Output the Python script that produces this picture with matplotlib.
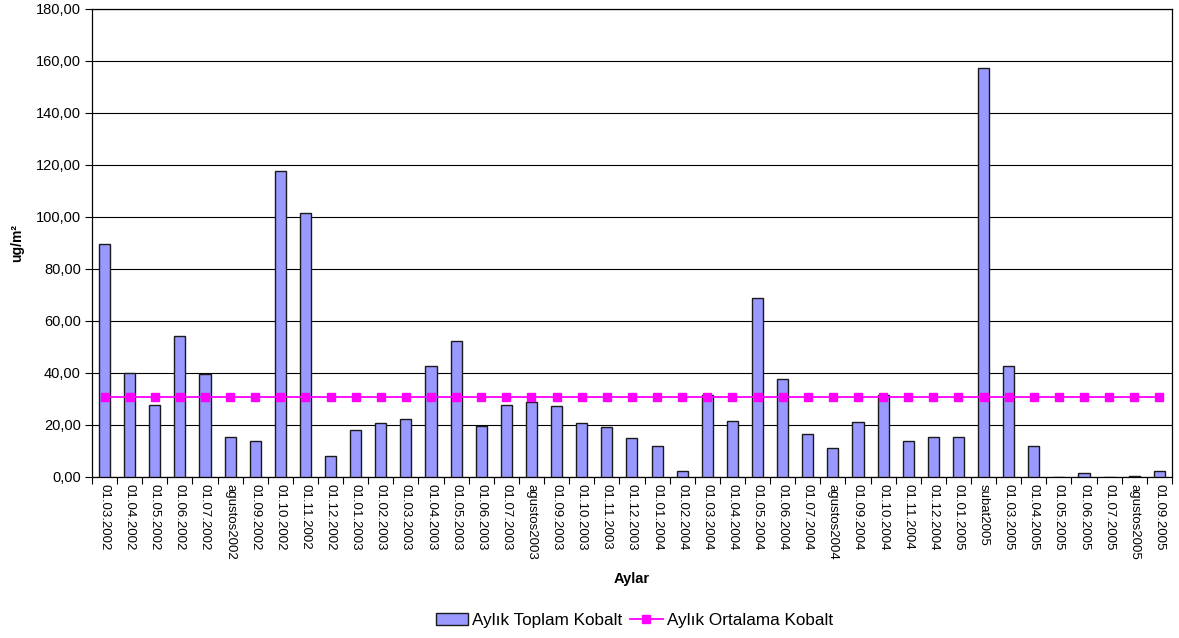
import matplotlib
matplotlib.use("Agg")
import matplotlib.pyplot as plt
import numpy as np

# ----------------------------------------------------------------------------
#  DATA
# ----------------------------------------------------------------------------
aylar = ['01.03.2002', '01.04.2002', '01.05.2002', '01.06.2002', '01.07.2002',
         'agustos2002', '01.09.2002', '01.10.2002', '01.11.2002', '01.12.2002',
         '01.01.2003', '01.02.2003', '01.03.2003', '01.04.2003', '01.05.2003',
         '01.06.2003', '01.07.2003', 'agustos2003', '01.09.2003', '01.10.2003',
         '01.11.2003', '01.12.2003', '01.01.2004', '01.02.2004', '01.03.2004',
         '01.04.2004', '01.05.2004', '01.06.2004', '01.07.2004', 'agustos2004',
         '01.09.2004', '01.10.2004', '01.11.2004', '01.12.2004', '01.01.2005',
         'subat2005', '01.03.2005', '01.04.2005', '01.05.2005', '01.06.2005',
         '01.07.2005', 'agustos2005', '01.09.2005']

toplam_kobalt = [89.5, 40.0, 27.7, 54.2, 39.6, 15.4, 13.8, 117.7, 101.5, 8.1,
                 18.1, 20.8, 22.3, 42.7, 52.3, 19.6, 27.7, 28.8, 27.3, 20.8,
                 19.2, 15.0, 11.9, 2.3, 31.5, 21.5, 69.0, 37.7, 16.5, 11.2,
                 21.0, 31.5, 13.8, 15.4, 15.4, 157.3, 42.7, 11.9, 0.0, 1.4,
                 0.0, 0.5, 2.3]

ortalama_kobalt = [30.9] * len(aylar)

y_ticks = [0, 20, 40, 60, 80, 100, 120, 140, 160, 180]
y_tick_labels = ['0,00', '20,00', '40,00', '60,00', '80,00', '100,00',
                 '120,00', '140,00', '160,00', '180,00']

# ----------------------------------------------------------------------------
#  PLOT
# ----------------------------------------------------------------------------
plt.rcParams['font.family'] = ['Liberation Sans', 'DejaVu Sans']

fig = plt.figure(figsize=(11.79, 6.38), dpi=100)
ax = fig.add_axes([0.078, 0.2524, 0.916, 0.7335])

x = np.arange(len(aylar))
bars = ax.bar(x, toplam_kobalt, width=0.44, color='#9999FF', edgecolor='#1a1a1a',
              linewidth=1.0, zorder=3, label='Aylık Toplam Kobalt')
line, = ax.plot(x, ortalama_kobalt, color='#FF00FF', linewidth=1.3, marker='s',
                markersize=5.5, markeredgecolor='#FF00FF', zorder=4,
                label='Aylık Ortalama Kobalt')

ax.set_xlim(-0.5, len(aylar) - 0.5)
ax.set_ylim(0, 180)
ax.set_yticks(y_ticks)
ax.set_yticklabels(y_tick_labels, fontsize=10.5)
ax.yaxis.grid(True, color='black', linewidth=0.8, zorder=0)

ax.set_xticks(x)
ax.set_xticklabels(aylar, rotation=270, fontsize=9.5, va='top', ha='center')
ax.tick_params(axis='x', which='major', length=0, pad=5)
ax.set_xticks(np.arange(-0.5, len(aylar), 1.0), minor=True)
ax.tick_params(axis='x', which='minor', length=5, width=0.8, direction='out')
ax.tick_params(axis='y', length=5, width=0.8, direction='out', pad=3)

for s in ax.spines.values():
    s.set_color('black')
    s.set_linewidth(0.9)

ax.set_ylabel('ug/m²', fontsize=10, fontweight='bold', labelpad=8)
ax.set_xlabel('Aylar', fontsize=10.5, fontweight='bold', labelpad=9)

fig.legend([bars, line], ['Aylık Toplam Kobalt', 'Aylık Ortalama Kobalt'],
           loc='center', bbox_to_anchor=(0.538, 0.028), ncol=2, frameon=False,
           fontsize=12.3, handlelength=1.9, handleheight=0.75, handletextpad=0.25,
           columnspacing=0.45)

fig.savefig('out.png', dpi=100)
